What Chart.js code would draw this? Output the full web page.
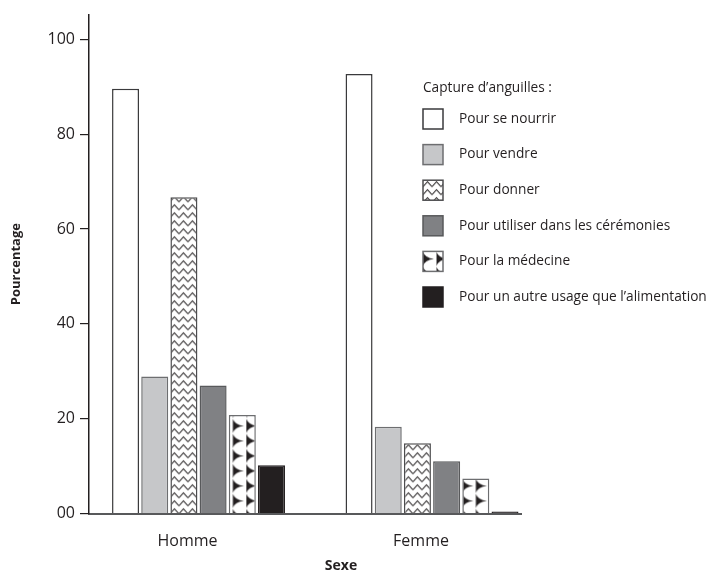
<!DOCTYPE html>
<html>
<head>
<meta charset="utf-8">
<title>Capture d'anguilles</title>
<script src="https://cdn.jsdelivr.net/npm/chart.js@4/dist/chart.umd.min.js"></script>
<style>
    html, body { margin: 0; padding: 0; background: #fff; }
</style>
</head>
<body>
<canvas id="chart" width="712" height="576"></canvas>
<script>
// Data
const categories = ['Homme', 'Femme'];
const seriesNames = [
    'Pour se nourrir',
    'Pour vendre',
    'Pour donner',
    'Pour utiliser dans les cérémonies',
    'Pour la médecine',
    'Pour un autre usage que l’alimentation'
];
const seNourrir = [89.6, 92.7];
const vendre = [28.9, 18.3];
const donner = [66.7, 14.8];
const ceremonies = [27.0, 11.0];
const medecine = [20.8, 7.4];
const autreUsage = [10.2, 0.4];
const yTicks = [0, 20, 40, 60, 80, 100];
const yTickLabels = ['00', '20', '40', '60', '80', '100'];

const ink = '#231f20';
const fontFamily = '"Open Sans", Lato, sans-serif';

// Pattern makers
function zigzagPattern() {
    const c = document.createElement('canvas');
    c.width = 9; c.height = 8;
    const g = c.getContext('2d');
    g.fillStyle = '#fff';
    g.fillRect(0, 0, 9, 8);
    g.strokeStyle = ink;
    g.lineWidth = 1.1;
    g.beginPath();
    g.moveTo(0, 6.5);
    g.lineTo(4.5, 1.5);
    g.lineTo(9, 6.5);
    g.stroke();
    return g.createPattern(c, 'repeat');
}

function trianglePattern() {
    const c = document.createElement('canvas');
    c.width = 27; c.height = 15;
    const g = c.getContext('2d');
    g.fillStyle = '#fff';
    g.fillRect(0, 0, 27, 15);
    g.fillStyle = ink;
    [0, 13.5].forEach(x0 => {
        g.beginPath();
        g.moveTo(x0, 0.5);
        g.quadraticCurveTo(x0 + 2, 6.5, x0 + 11, 7.5);
        g.quadraticCurveTo(x0 + 2, 8.5, x0, 14.5);
        g.closePath();
        g.fill();
    });
    return g.createPattern(c, 'repeat');
}

function toPoints(values) {
    return values.map((v, i) => ({ x: i, y: v }));
}

const seriesValues = [seNourrir, vendre, donner, ceremonies, medecine, autreUsage];
const fills = ['#ffffff', '#c6c7c9', null, '#808184', null, ink];
const borders = ['#3a3a3c', '#6d6e70', '#4d4d4f', '#58595b', '#6d6e70', ink];
const patternMakers = [null, null, zigzagPattern, null, trianglePattern, null];

const datasets = seriesValues.map((vals, i) => ({
    label: seriesNames[i],
    data: toPoints(vals),
    backgroundColor: fills[i] || '#ffffff',
    borderColor: borders[i],
    borderWidth: 1.5,
    patternMaker: patternMakers[i]
}));

// Put patterns on bars, aligned with each bar's left edge
const alignPatterns = {
    id: 'alignPatterns',
    beforeDatasetsDraw(chart) {
        chart.data.datasets.forEach((ds, di) => {
            if (!ds.patternMaker) return;
            chart.getDatasetMeta(di).data.forEach(bar => {
                const p = ds.patternMaker();
                p.setTransform(new DOMMatrix().translate(bar.x - bar.width / 2, bar.y));
                bar.options.backgroundColor = p;
            });
        });
    }
};

// Legend block and x title
const sideLegend = {
    id: 'sideLegend',
    afterDraw(chart) {
        const ctx = chart.ctx;
        ctx.save();
        ctx.font = '13.7px ' + fontFamily;
        ctx.textBaseline = 'middle';
        ctx.textAlign = 'left';
        ctx.fillStyle = ink;
        ctx.fillText('Capture d’anguilles :', 423, 88);
        chart.data.datasets.forEach((ds, i) => {
            const yc = 119 + i * 35.6;
            const bx = 423, by = yc - 10;
            let fill = ds.backgroundColor;
            if (ds.patternMaker) {
                fill = ds.patternMaker();
                fill.setTransform(new DOMMatrix().translate(bx, by));
            }
            ctx.fillStyle = fill;
            ctx.fillRect(bx, by, 20, 20);
            ctx.strokeStyle = ds.borderColor;
            ctx.lineWidth = 1.5;
            ctx.strokeRect(bx, by, 20, 20);
            ctx.fillStyle = ink;
            ctx.fillText(ds.label, 459, yc);
        });
        ctx.font = 'bold 14px ' + fontFamily;
        ctx.textAlign = 'center';
        ctx.fillText('Sexe', 341, 566);
        ctx.restore();
    }
};

const ctx = document.getElementById('chart').getContext('2d');
const chart = new Chart(ctx, {
    type: 'bar',
    data: { datasets: datasets },
    options: {
        responsive: false,
        animation: false,
        devicePixelRatio: 1,
        categoryPercentage: 0.75,
        barPercentage: 0.925,
        layout: { padding: { top: 14.7, right: 191, bottom: 0, left: 0 } },
        plugins: {
            legend: { display: false },
            tooltip: { enabled: false }
        },
        scales: {
            x: {
                type: 'linear',
                offset: false,
                min: -0.469,
                max: 1.381,
                afterBuildTicks: s => { s.ticks = categories.map((c, i) => ({ value: i })); },
                afterFit: s => { s.height = 62.5; },
                grid: { display: false, offset: false, drawTicks: false },
                border: { color: '#58595b', width: 2 },
                ticks: {
                    callback: v => categories[v],
                    labelOffset: -11,
                    padding: 18,
                    autoSkip: false,
                    maxRotation: 0,
                    color: ink,
                    font: { family: fontFamily, size: 16 }
                }
            },
            y: {
                min: 0,
                max: 105.2,
                afterBuildTicks: s => { s.ticks = yTicks.map(v => ({ value: v })); },
                afterFit: s => { s.width = 89; },
                grid: { drawOnChartArea: false, tickLength: 9, color: ink, lineWidth: 1.2 },
                border: { color: ink, width: 1.5 },
                ticks: {
                    callback: v => yTickLabels[yTicks.indexOf(v)],
                    padding: 5,
                    color: ink,
                    font: { family: fontFamily, size: 16 }
                },
                title: {
                    display: true,
                    text: 'Pourcentage',
                    color: ink,
                    font: { family: fontFamily, size: 13, weight: 'bold' },
                    padding: { top: 8, bottom: 0 }
                }
            }
        }
    },
    plugins: [alignPatterns, sideLegend]
});
</script>
</body>
</html>
